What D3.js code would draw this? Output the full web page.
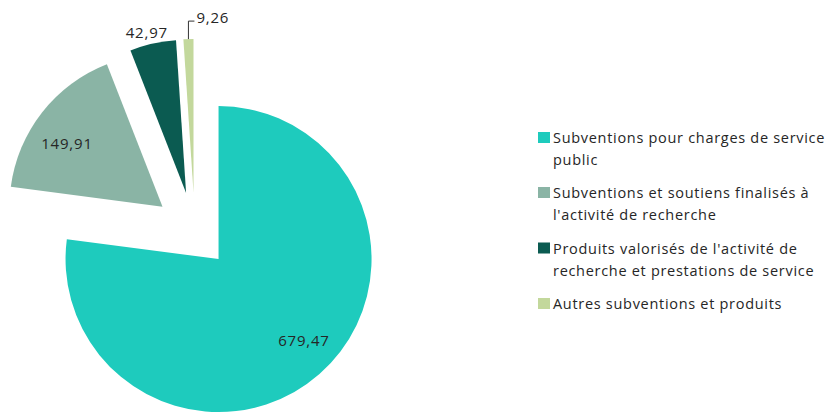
<!DOCTYPE html>
<html lang="fr">
<head>
<meta charset="UTF-8">
<title>Ressources</title>
<script src="https://d3js.org/d3.v7.min.js"></script>
<style>
  body { margin: 0; background: #fff; }
  text { font-family: "Open Sans", "Noto Sans", sans-serif; fill: #262626; }
</style>
</head>
<body>
<script>
  // données
  const categories = [
    ["Subventions pour charges de service", "public"],
    ["Subventions et soutiens finalisés à", "l'activité de recherche"],
    ["Produits valorisés de l'activité de", "recherche et prestations de service"],
    ["Autres subventions et produits"]
  ];
  const values = [679.47, 149.91, 42.97, 9.26];
  const colors = ["#1ecbbd", "#8ab4a5", "#0b5b51", "#c3d89c"];

  const width = 829, height = 414;
  const cx = 194.8, cy = 232, radius = 153;
  const explode = [36, 41, 40, 40];
  // position des étiquettes : rayon (fraction) et décalage d'angle (degrés)
  const labelR = [0.77, 0.75, 1.08, null];
  const labelShift = [-5.2, -4.4, -1.2, 0];

  const fmt = v => d3.format(".2f")(v).replace(".", ",");

  const svg = d3.select("body").append("svg")
      .attr("width", width)
      .attr("height", height);

  const pie = d3.pie().sort(null).value(d => d);
  const arcs = pie(values);
  const arc = d3.arc().innerRadius(0).outerRadius(radius);

  const g = svg.append("g").attr("transform", `translate(${cx},${cy})`);

  const slices = g.selectAll("g.slice")
      .data(arcs)
      .enter().append("g")
      .attr("class", "slice")
      .attr("transform", (d, i) => {
        const a = (d.startAngle + d.endAngle) / 2;
        return `translate(${explode[i] * Math.sin(a)},${-explode[i] * Math.cos(a)})`;
      });

  slices.append("path")
      .attr("d", arc)
      .attr("fill", (d, i) => colors[i]);

  slices.each(function(d, i) {
    const s = d3.select(this);
    const a = (d.startAngle + d.endAngle) / 2;
    if (labelR[i] !== null) {
      const b = a + labelShift[i] * Math.PI / 180;
      const r = labelR[i] * radius;
      s.append("text")
          .attr("x", r * Math.sin(b))
          .attr("y", -r * Math.cos(b))
          .attr("text-anchor", "middle")
          .attr("dominant-baseline", "central")
          .attr("font-size", 15)
          .attr("letter-spacing", 0.8)
          .text(fmt(values[i]));
    } else {
      // petite part : ligne de rappel
      const x0 = radius * Math.sin(a), y0 = -radius * Math.cos(a);
      const y1 = y0 - 18;
      s.append("path")
          .attr("d", `M${x0},${y0}V${y1}H${x0 + 6}`)
          .attr("fill", "none")
          .attr("stroke", "#333")
          .attr("stroke-width", 1);
      s.append("text")
          .attr("x", x0 + 8)
          .attr("y", y1 - 4)
          .attr("dominant-baseline", "central")
          .attr("font-size", 15)
          .attr("letter-spacing", 0.8)
          .text(fmt(values[i]));
    }
  });

  // légende
  const legendY = [137.5, 192.5, 248, 303.5];
  const legend = svg.append("g").attr("transform", "translate(538,0)");
  const items = legend.selectAll("g")
      .data(categories)
      .enter().append("g")
      .attr("transform", (d, i) => `translate(0,${legendY[i]})`);

  items.append("rect")
      .attr("x", 0).attr("y", -5.5)
      .attr("width", 12).attr("height", 11)
      .attr("fill", (d, i) => colors[i]);

  items.each(function(lines) {
    const t = d3.select(this).append("text")
        .attr("font-size", 14.5)
        .attr("letter-spacing", 0.7);
    lines.forEach((l, k) => {
      t.append("tspan")
          .attr("x", 15)
          .attr("y", k * 22)
          .attr("dominant-baseline", "central")
          .text(l);
    });
  });
</script>
</body>
</html>
